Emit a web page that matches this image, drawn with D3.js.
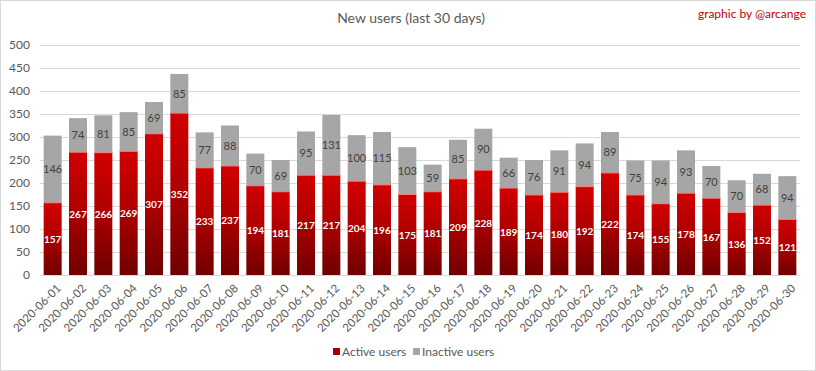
<!DOCTYPE html>
<html>
<head>
<meta charset="utf-8">
<script src="https://cdn.jsdelivr.net/npm/d3@7"></script>
<style>
  body { margin: 0; background: #fff; }
  svg { display: block; font-family: Lato, "Open Sans", sans-serif; }
</style>
</head>
<body>
<div id="screen"></div>
<script>
var width = 816;
var height = 371;

var dates = ["2020-06-01","2020-06-02","2020-06-03","2020-06-04","2020-06-05","2020-06-06","2020-06-07","2020-06-08","2020-06-09","2020-06-10",
  "2020-06-11","2020-06-12","2020-06-13","2020-06-14","2020-06-15","2020-06-16","2020-06-17","2020-06-18","2020-06-19","2020-06-20",
  "2020-06-21","2020-06-22","2020-06-23","2020-06-24","2020-06-25","2020-06-26","2020-06-27","2020-06-28","2020-06-29","2020-06-30"];
var active = [157,267,266,269,307,352,233,237,194,181,217,217,204,196,175,181,209,228,189,174,180,192,222,174,155,178,167,136,152,121];
var inactive = [146,74,81,85,69,85,77,88,70,69,95,131,100,115,103,59,85,90,66,76,91,94,89,75,94,93,70,70,68,94];
var yTicks = [0,50,100,150,200,250,300,350,400,450,500];
var seriesNames = ["Active users", "Inactive users"];

var margin = {left: 40, right: 16, top: 45, bottom: 96};

var svg = d3.select("#screen").append("svg")
  .attr("width", width).attr("height", height);

// outer border
svg.append("rect")
  .attr("x", 0.5).attr("y", 0.5)
  .attr("width", width - 1).attr("height", height - 1)
  .attr("fill", "#fff").attr("stroke", "#d9d9d9");

var defs = svg.append("defs");
var grad = defs.append("linearGradient")
  .attr("id", "redGrad").attr("x1", 0).attr("y1", 0).attr("x2", 0).attr("y2", 1);
grad.append("stop").attr("offset", "0%").attr("stop-color", "#d20000");
grad.append("stop").attr("offset", "45%").attr("stop-color", "#b00000");
grad.append("stop").attr("offset", "100%").attr("stop-color", "#700000");

var x = d3.scaleBand().domain(dates)
  .range([margin.left, width - margin.right])
  .paddingInner(0.29).paddingOuter(0.145);
var y = d3.scaleLinear().domain([0, 500])
  .range([height - margin.bottom, margin.top]);

// grid
svg.append("g").selectAll("line").data(yTicks).enter().append("line")
  .attr("x1", margin.left).attr("x2", width - margin.right)
  .attr("y1", function(d){ return Math.round(y(d)) + 0.5; })
  .attr("y2", function(d){ return Math.round(y(d)) + 0.5; })
  .attr("stroke", "#d9d9d9").attr("stroke-width", 1);

// y axis labels
var yAxis = d3.axisLeft(y).tickValues(yTicks).tickSize(0).tickPadding(10);
var gy = svg.append("g").attr("transform", "translate(" + margin.left + ",0)").call(yAxis);
gy.select(".domain").remove();
gy.selectAll("text").attr("fill", "#595959").style("font-size", "12px")
  .style("font-family", "Lato, 'Open Sans', sans-serif");

// bars
var bars = svg.append("g");
bars.selectAll("rect.inactive").data(dates).enter().append("rect")
  .attr("class", "inactive")
  .attr("x", function(d){ return x(d); })
  .attr("width", x.bandwidth())
  .attr("y", function(d, i){ return y(active[i] + inactive[i]); })
  .attr("height", function(d, i){ return y(active[i]) - y(active[i] + inactive[i]); })
  .attr("fill", "#a6a6a6");
bars.selectAll("rect.active").data(dates).enter().append("rect")
  .attr("class", "active")
  .attr("x", function(d){ return x(d); })
  .attr("width", x.bandwidth())
  .attr("y", function(d, i){ return y(active[i]); })
  .attr("height", function(d, i){ return y(0) - y(active[i]); })
  .attr("fill", "url(#redGrad)");
bars.selectAll("line.edge").data(dates).enter().append("line")
  .attr("class", "edge")
  .attr("x1", function(d){ return x(d); })
  .attr("x2", function(d){ return x(d) + x.bandwidth(); })
  .attr("y1", function(d, i){ return y(active[i]); })
  .attr("y2", function(d, i){ return y(active[i]); })
  .attr("stroke", "#f08080").attr("stroke-width", 1);

// labels
var labels = svg.append("g").attr("text-anchor", "middle").style("font-size", "11px");
labels.selectAll("text.a").data(dates).enter().append("text")
  .attr("class", "a")
  .attr("x", function(d){ return x(d) + x.bandwidth() / 2; })
  .attr("y", function(d, i){ return (y(0) + y(active[i])) / 2 + 4; })
  .attr("fill", "#fff").attr("font-weight", "bold")
  .style("font-size", "10px")
  .text(function(d, i){ return active[i]; });
labels.selectAll("text.b").data(dates).enter().append("text")
  .attr("class", "b")
  .attr("x", function(d){ return x(d) + x.bandwidth() / 2; })
  .attr("y", function(d, i){ return (y(active[i]) + y(active[i] + inactive[i])) / 2 + 4; })
  .attr("fill", "#404040")
  .text(function(d, i){ return inactive[i]; });

// x axis
var xAxis = d3.axisBottom(x).tickSize(0).tickPadding(0);
var gx = svg.append("g").attr("transform", "translate(0," + y(0) + ")").call(xAxis);
gx.select(".domain").remove();
gx.selectAll("text")
  .attr("fill", "#595959").style("font-size", "11.5px")
  .style("font-family", "Lato, 'Open Sans', sans-serif")
  .attr("text-anchor", "end")
  .attr("dy", "0")
  .attr("transform", "translate(9,14) rotate(-45)");

// title
svg.append("text").attr("x", 411).attr("y", 23).attr("text-anchor", "middle")
  .attr("fill", "#595959").style("font-size", "14px").text("New users (last 30 days)");
svg.append("text").attr("x", 806).attr("y", 18).attr("text-anchor", "end")
  .attr("fill", "#c00000").style("font-size", "12px").text("graphic by @arcange");

// legend
var legendX = [333, 413];
var legendColors = ["#a00000", "#a6a6a6"];
var lg = svg.append("g");
lg.selectAll("rect").data(seriesNames).enter().append("rect")
  .attr("x", function(d, i){ return legendX[i]; })
  .attr("y", 348).attr("width", 7).attr("height", 7)
  .attr("fill", function(d, i){ return legendColors[i]; });
lg.selectAll("text").data(seriesNames).enter().append("text")
  .attr("x", function(d, i){ return legendX[i] + 9; })
  .attr("y", 356).attr("fill", "#595959").style("font-size", "12px")
  .text(function(d){ return d; });
</script>
</body>
</html>
